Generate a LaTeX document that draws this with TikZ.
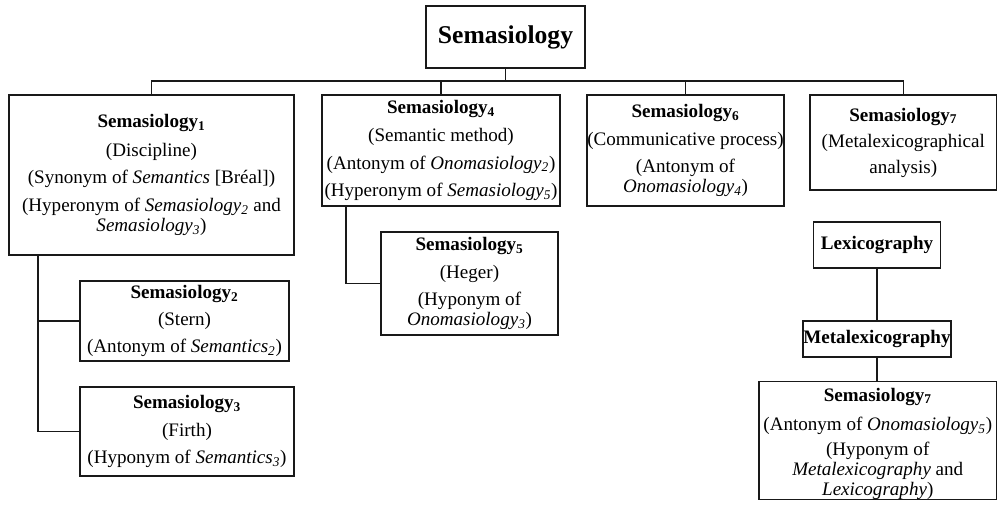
\documentclass[tikz,border=0pt]{standalone}
\usepackage{fontspec}
\setmainfont{Liberation Serif}
\begin{document}
\begin{tikzpicture}[x=0.75pt,y=-0.75pt,
  box/.style={draw=black!90, line width=1pt, inner sep=0pt, align=center,
    font=\fontsize{14.3}{15}\selectfont},
  link/.style={draw=black!90, line width=1pt}]
\useasboundingbox[fill=white] (0,0) rectangle (998,509);
% box from corner (x1,y1) to corner (x2,y2), in pixel units
\newcommand\boxnode[6]{%
  \node[box, minimum width={(#4-#2)*0.75pt}, minimum height={(#5-#3)*0.75pt}]
    (#1) at ({(#2+#4)/2},{(#3+#5)/2}) {#6};}
\newcommand\sub[1]{\textsubscript{#1}}

\boxnode{top}{426}{6}{585}{68}{\fontsize{19.2}{20}\selectfont\textbf{Semasiology}}

\boxnode{s1}{9}{95}{294}{255}{\textbf{Semasiology\sub{1}}\\[6.5pt]
  (Discipline)\\[5.5pt]
  (Synonym of \textit{Semantics} [Bréal])\\[5.5pt]
  (Hyperonym of \textit{Semasiology\sub{2}} and\\
  \textit{Semasiology\sub{3}})}

\boxnode{s2}{80}{281}{289}{361}{\textbf{Semasiology\sub{2}}\\[5.5pt]
  (Stern)\\[5.5pt]
  (Antonym of \textit{Semantics\sub{2}})}

\boxnode{s3}{80}{387}{294}{476}{\textbf{Semasiology\sub{3}}\\[5.5pt]
  (Firth)\\[5.5pt]
  (Hyponym of \textit{Semantics\sub{3}})}

\boxnode{s4}{322}{95}{560}{206}{\textbf{Semasiology\sub{4}}\\[6pt]
  (Semantic method)\\[5.5pt]
  (Antonym of \textit{Onomasiology\sub{2}})\\[5.5pt]
  (Hyperonym of \textit{Semasiology\sub{5}})}

\boxnode{s5}{381}{232}{558}{335}{\textbf{Semasiology\sub{5}}\\[5.5pt]
  (Heger)\\[5.5pt]
  (Hyponym of\\
  \textit{Onomasiology\sub{3}})}

\boxnode{s6}{587}{95}{784}{206}{\textbf{Semasiology\sub{6}}\\[5.5pt]
  (Communicative process)\\[5.5pt]
  (Antonym of\\
  \textit{Onomasiology\sub{4}})}

\boxnode{s7}{810}{95}{996.5}{190}{\textbf{Semasiology\sub{7}}\\[4.5pt]
  (Metalexicographical\\[4.5pt]
  analysis)}

\boxnode{lex}{813.5}{222}{940.5}{268}{\textbf{Lexicography}}
\boxnode{meta}{803}{321}{951}{357}{\textbf{Metalexicography}}

\boxnode{s7b}{759}{383}{996.5}{498}{\rule{0pt}{14.5pt}\textbf{Semasiology\sub{7}}\\[7pt]
  (Antonym of \textit{Onomasiology\sub{5}})\\[3.5pt]
  (Hyponym of\\
  \textit{Metalexicography} and\\
  \textit{Lexicography})}

% bus and branch lines
\coordinate (bus) at (0,81);
\coordinate (trunkA) at (38,0);
\coordinate (trunkB) at (346,0);

\draw[link] (top.south) -- (top.south |- bus);
\draw[link] (s1.north) -- (s1.north |- bus) -| (s7.north);
\draw[link] (s4.north) -- (s4.north |- bus);
\draw[link] (s6.north) -- (s6.north |- bus);

\draw[link] (s1.south -| trunkA) |- (s3.west);
\draw[link] (s2.west) -- (s2.west -| trunkA);

\draw[link] (s4.south -| trunkB) |- (s5.west);

\draw[link] (lex.south) -- (lex.south |- meta.north);
\draw[link] (meta.south) -- (meta.south |- s7b.north);
\end{tikzpicture}
\end{document}
